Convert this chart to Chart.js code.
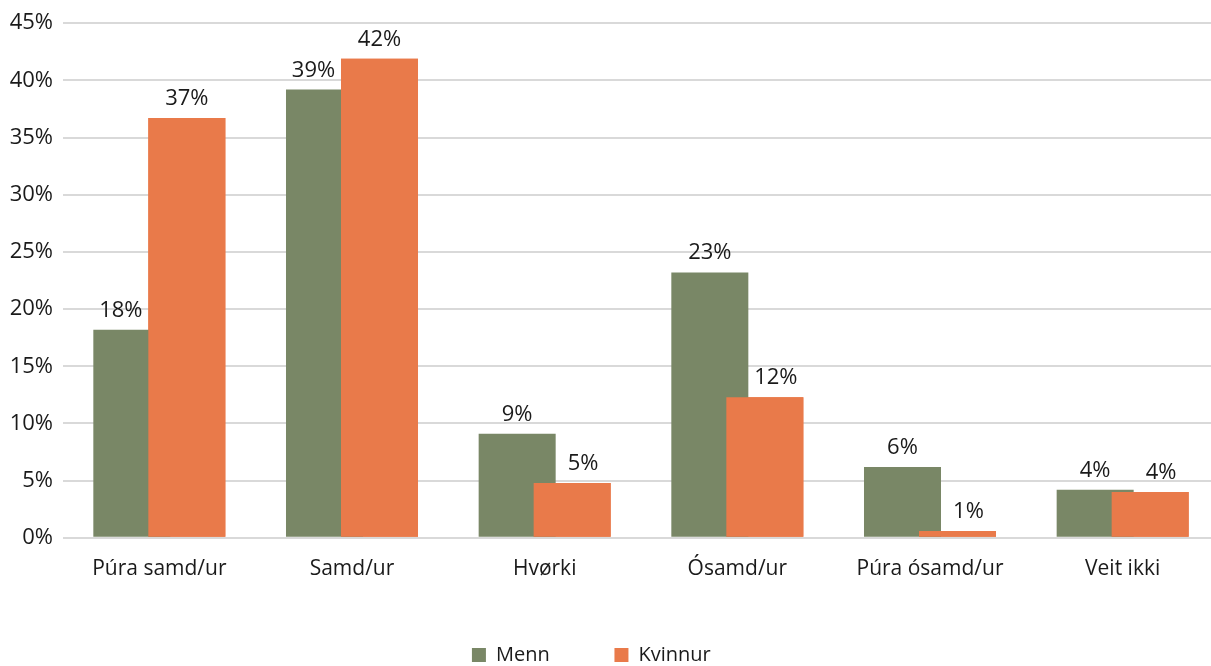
<!DOCTYPE html>
<html>
<head>
<meta charset="utf-8">
<script src="https://cdn.jsdelivr.net/npm/chart.js@4/dist/chart.umd.min.js"></script>
<style>
  html, body { margin: 0; padding: 0; background: #fff; overflow: hidden; }
  #wrap { position: absolute; left: 0; top: 0; width: 1222px; height: 675px; }
</style>
</head>
<body>
<div id="wrap"><canvas id="myChart"></canvas></div>
<script>
const categories = ['Púra samd/ur', 'Samd/ur', 'Hvørki', 'Ósamd/ur', 'Púra ósamd/ur', 'Veit ikki'];
const menn = [18.2, 39.2, 9.1, 23.2, 6.2, 4.2];
const kvinnur = [36.7, 41.9, 4.8, 12.3, 0.6, 4.0];
const yTicks = [0, 5, 10, 15, 20, 25, 30, 35, 40, 45];

const FONT = '"Open Sans", sans-serif';

// orange bars sit over the green ones, then the value labels
// (labels move off the part of a bar hidden by a taller neighbour)
const barLabels = {
  id: 'barLabels',
  afterDatasetsDraw(chart) {
    chart.getDatasetMeta(1).controller.draw();

    const ctx = chart.ctx;
    const m0 = chart.getDatasetMeta(0);
    const m1 = chart.getDatasetMeta(1);
    ctx.save();
    ctx.font = '22px ' + FONT;
    ctx.fillStyle = '#1a1a1a';
    ctx.textAlign = 'center';
    ctx.textBaseline = 'alphabetic';
    categories.forEach((c, i) => {
      const a = m0.data[i], b = m1.data[i];
      const overlap = Math.max(0, (a.x + a.width / 2) - (b.x - b.width / 2));
      const va = menn[i], vb = kvinnur[i];
      const ax = va < vb ? a.x - overlap / 2 : a.x;
      const bx = vb < va ? b.x + overlap / 2 : b.x;
      ctx.fillText(Math.round(va) + '%', ax, a.y - 13);
      ctx.fillText(Math.round(vb) + '%', bx, b.y - 13);
    });
    ctx.restore();
  }
};

const ctx = document.getElementById('myChart').getContext('2d');
const myChart = new Chart(ctx, {
  type: 'bar',
  data: {
    labels: categories,
    datasets: [
      { label: 'Menn', data: menn, backgroundColor: '#798766' },
      { label: 'Kvinnur', data: kvinnur, backgroundColor: '#e97a4a' }
    ]
  },
  options: {
    responsive: true,
    maintainAspectRatio: false,
    animation: false,
    categoryPercentage: 0.571,
    barPercentage: 1.4,
    layout: { padding: { top: 22, right: 3, left: 0, bottom: 0 } },
    plugins: {
      tooltip: { enabled: false },
      legend: {
        position: 'bottom',
        labels: {
          boxWidth: 14,
          boxHeight: 14,
          padding: 44,
          color: '#1a1a1a',
          font: { family: FONT, size: 20 },
          generateLabels: chart => {
            const items = Chart.defaults.plugins.legend.labels.generateLabels(chart);
            // wider gap after the first entry, legend sits a bit left of centre
            items[0].text += '\u00A0\u00A0\u00A0\u00A0';
            items[1].text += '\u00A0'.repeat(7);
            return items;
          }
        }
      }
    },
    scales: {
      x: {
        grid: { display: false, drawTicks: false },
        border: { display: false },
        ticks: { color: '#1a1a1a', padding: 19, font: { family: FONT, size: 21 } }
      },
      y: {
        min: 0,
        max: 45,
        afterFit: s => { s.width = 63; },
        afterBuildTicks: s => { s.ticks = yTicks.map(v => ({ value: v })); },
        grid: { color: '#d9d9d9', lineWidth: 2, drawTicks: false },
        border: { display: false },
        ticks: {
          color: '#1a1a1a',
          padding: 10,
          font: { family: FONT, size: 22 },
          callback: v => v + '%'
        }
      }
    }
  },
  plugins: [barLabels]
});
</script>
</body>
</html>
